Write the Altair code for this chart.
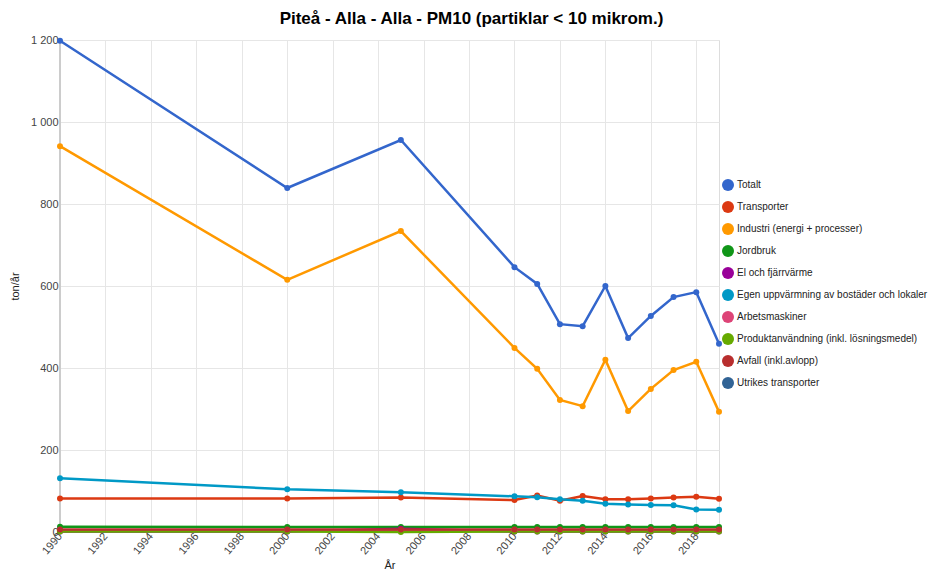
import altair as alt
import pandas as pd

years = [1990, 2000, 2005, 2010, 2011, 2012, 2013, 2014, 2015, 2016, 2017, 2018, 2019]

series_names = [
    "Totalt",
    "Transporter",
    "Industri (energi + processer)",
    "Jordbruk",
    "El och fjärrvärme",
    "Egen uppvärmning av bostäder och lokaler",
    "Arbetsmaskiner",
    "Produktanvändning (inkl. lösningsmedel)",
    "Avfall (inkl.avlopp)",
    "Utrikes transporter",
]
colors = ["#3366cc", "#dc3912", "#ff9900", "#109618", "#990099",
          "#0099c6", "#dd4477", "#66aa00", "#b82e2e", "#316395"]

totalt = [1198, 839, 956, 646, 605, 507, 502, 600, 473, 527, 573, 585, 459]
transporter = [82, 82, 84, 78, 89, 76, 88, 80, 80, 82, 84, 86, 81]
industri = [941, 615, 734, 449, 398, 322, 307, 420, 295, 349, 395, 415, 293]
jordbruk = [13, 12, 12, 12, 12, 12, 12, 12, 12, 12, 12, 12, 12]
el = [1, 1, 8, 1, 1, 1, 1, 1, 1, 1, 1, 1, 1]
egen = [131, 104, 97, 87, 85, 80, 76, 69, 67, 66, 65, 55, 54]
arbetsmaskiner = [4, 4, 4, 4, 4, 4, 4, 4, 4, 4, 4, 4, 4]
produkt = [1, 1, 0, 1, 1, 1, 1, 1, 1, 1, 1, 1, 1]
avfall = [6, 6, 6, 6, 6, 6, 6, 6, 6, 6, 6, 6, 6]
utrikes = [None] * 13

all_values = [totalt, transporter, industri, jordbruk, el, egen,
              arbetsmaskiner, produkt, avfall, utrikes]

rows = []
for name, vals in zip(series_names, all_values):
    for y, v in zip(years, vals):
        if v is not None:
            rows.append({"År": y, "ton/år": v, "serie": name})
df = pd.DataFrame(rows)

FONT = "Arial, Liberation Sans, sans-serif"

color_scale = alt.Scale(domain=series_names, range=colors)

x_enc = alt.X(
    "År:Q",
    scale=alt.Scale(domain=[1990, 2019], nice=False, zero=False),
    axis=alt.Axis(
        values=list(range(1990, 2020)),
        labelExpr="datum.value % 2 == 0 ? format(datum.value, 'd') : ''",
        labelAngle=-50,
        labelFontSize=11,
        labelColor="#444444",
        labelFont=FONT,
        ticks=False,
        domain=False,
        gridColor="#e6e6e6",
        title="År",
        titleFont=FONT,
        titleFontSize=11,
        titleFontWeight="normal",
        titleColor="#222222",
        titlePadding=4,
    ),
)
y_enc = alt.Y(
    "ton/år:Q",
    scale=alt.Scale(domain=[0, 1200], nice=False),
    axis=alt.Axis(
        values=[0, 200, 400, 600, 800, 1000, 1200],
        labelExpr="replace(format(datum.value, ','), ',', ' ')",
        labelFontSize=11,
        labelColor="#444444",
        labelFont=FONT,
        ticks=False,
        domain=False,
        gridColor="#e6e6e6",
        title="ton/år",
        titleFont=FONT,
        titleFontSize=11,
        titleFontWeight="normal",
        titleColor="#222222",
        titlePadding=10,
    ),
)

color_enc = alt.Color(
    "serie:N",
    scale=color_scale,
    sort=series_names,
    legend=alt.Legend(
        title=None,
        orient="none",
        legendX=662,
        legendY=139,
        symbolType="circle",
        symbolSize=144,
        symbolStrokeWidth=0,
        labelFont=FONT,
        labelFontSize=10,
        labelColor="#222222",
        labelOffset=3,
        rowPadding=10,
        labelLimit=300,
    ),
)

base = alt.Chart(df)

baseline = alt.Chart(pd.DataFrame({"y": [0]})).mark_rule(color="#bdbdbd", strokeWidth=1).encode(
    y=alt.Y("y:Q", scale=alt.Scale(domain=[0, 1200], nice=False))
)
leftline = alt.Chart(pd.DataFrame({"x": [1990]})).mark_rule(color="#cccccc", strokeWidth=2).encode(
    x=alt.X("x:Q", scale=alt.Scale(domain=[1990, 2019], nice=False, zero=False))
)

lines = base.mark_line(strokeWidth=2.5).encode(
    x=x_enc, y=y_enc, color=color_enc, order=alt.Order("År:Q")
)
points = base.mark_point(filled=True, size=36, opacity=1).encode(
    x="År:Q", y="ton/år:Q", color=alt.Color("serie:N", scale=color_scale, legend=None)
)

chart = alt.layer(leftline, baseline, lines, points).properties(
    width=659,
    height=492,
    autosize=alt.AutoSizeParams(type="none"),
    padding={"left": 52, "top": 32, "right": 209, "bottom": 38},
    title=alt.TitleParams(
        text="Piteå - Alla - Alla - PM10 (partiklar < 10 mikrom.)",
        font=FONT,
        fontSize=17,
        fontWeight="bold",
        color="#000000",
        anchor="middle",
        dx=82,
        offset=6,
    ),
).configure_view(stroke=None).configure(background="white")

chart.save("out.html", embed_options={"renderer": "svg", "actions": False})
